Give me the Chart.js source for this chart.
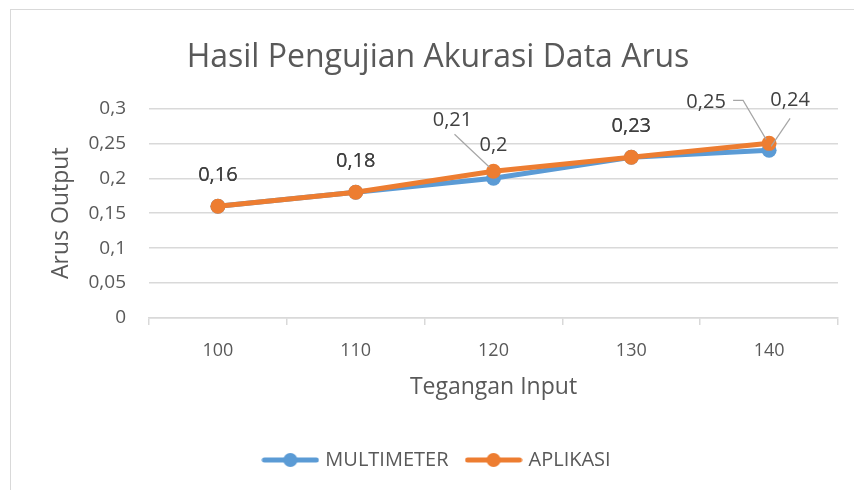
<!DOCTYPE html>
<html>
<head>
<meta charset="utf-8">
<script src="https://cdn.jsdelivr.net/npm/chart.js@4.4.1/dist/chart.umd.min.js"></script>
<style>
    html, body { margin: 0; padding: 0; background: #fff; overflow: hidden; }
    #wrap { position: relative; width: 854px; height: 490px; }
    #frame { position: absolute; left: 10px; top: 9px; width: 900px; height: 600px; border: 1.5px solid #d9d9d9; }
    #chart { position: absolute; left: 0; top: 0; }
</style>
</head>
<body>
<div id="wrap">
    <div id="frame"></div>
    <canvas id="chart" width="854" height="490"></canvas>
</div>
<script>
const categories = ['100', '110', '120', '130', '140'];
const multimeter = [0.16, 0.18, 0.2, 0.23, 0.24];
const aplikasi = [0.16, 0.18, 0.21, 0.23, 0.25];
const yTicks = [0, 0.05, 0.1, 0.15, 0.2, 0.25, 0.3];

const BLUE = '#5b9bd5';
const ORANGE = '#ed7d31';
const FONT = "'Open Sans', 'Liberation Sans', sans-serif";

const fmt = v => String(+v.toFixed(2)).replace('.', ',');

// legend marker: line with a dot in the middle
function legendMarker(color) {
    const c = document.createElement('canvas');
    c.width = 58; c.height = 16;
    const g = c.getContext('2d');
    g.strokeStyle = color;
    g.lineWidth = 5;
    g.lineCap = 'round';
    g.beginPath(); g.moveTo(3, 8); g.lineTo(55, 8); g.stroke();
    g.fillStyle = color;
    g.beginPath(); g.arc(29, 8, 7, 0, Math.PI * 2); g.fill();
    return c;
}

// data labels, Excel style (overlapping values share one spot)
const labelPlugin = {
    id: 'valueLabels',
    afterDatasetsDraw(chart) {
        const ctx = chart.ctx;
        ctx.save();
        ctx.font = '20px ' + FONT;
        ctx.fillStyle = '#404040';
        ctx.textAlign = 'center';
        ctx.textBaseline = 'middle';
        ctx.strokeStyle = '#a6a6a6';
        ctx.lineWidth = 1.2;
        const m = chart.getDatasetMeta(0).data;
        const a = chart.getDatasetMeta(1).data;
        categories.forEach((c, i) => {
            const pm = m[i], pa = a[i];
            if (multimeter[i] === aplikasi[i]) {
                ctx.fillText(fmt(aplikasi[i]), pa.x, pa.y - 31);
                ctx.fillText(fmt(multimeter[i]), pm.x, pm.y - 31);
            } else if (i === categories.length - 1) {
                ctx.beginPath();
                ctx.moveTo(pa.x - 36, pa.y - 43);
                ctx.lineTo(pa.x - 26, pa.y - 43);
                ctx.lineTo(pa.x - 3, pa.y - 4);
                ctx.stroke();
                ctx.beginPath();
                ctx.moveTo(pm.x + 21, pm.y - 32);
                ctx.lineTo(pm.x + 2, pm.y - 4);
                ctx.stroke();
                ctx.fillText(fmt(aplikasi[i]), pa.x - 63, pa.y - 41);
                ctx.fillText(fmt(multimeter[i]), pm.x + 21, pm.y - 50);
            } else {
                ctx.beginPath();
                ctx.moveTo(pa.x - 39, pa.y - 37);
                ctx.lineTo(pa.x - 4, pa.y - 4);
                ctx.stroke();
                ctx.fillText(fmt(aplikasi[i]), pa.x - 41, pa.y - 51);
                ctx.fillText(fmt(multimeter[i]), pm.x, pm.y - 33);
            }
        });
        ctx.restore();
    }
};

new Chart(document.getElementById('chart'), {
    type: 'line',
    data: {
        labels: categories,
        datasets: [
            {
                label: 'MULTIMETER',
                data: multimeter,
                order: 1,
                borderColor: BLUE,
                backgroundColor: BLUE,
                borderWidth: 5,
                pointRadius: 7.5,
                pointHoverRadius: 7.5,
                pointBorderWidth: 0,
                tension: 0
            },
            {
                label: 'APLIKASI',
                data: aplikasi,
                order: 0,
                borderColor: ORANGE,
                backgroundColor: ORANGE,
                borderWidth: 5,
                pointRadius: 7.5,
                pointHoverRadius: 7.5,
                pointBorderWidth: 0,
                tension: 0
            }
        ]
    },
    options: {
        responsive: false,
        animation: false,
        layout: { padding: { left: 38, right: 16, top: 0, bottom: 10 } },
        plugins: {
            title: {
                display: true,
                text: 'Hasil Pengujian Akurasi Data Arus',
                color: '#595959',
                font: { family: FONT, size: 32, weight: 'normal' },
                padding: { top: 39, bottom: 31 }
            },
            legend: {
                position: 'bottom',
                labels: {
                    usePointStyle: true,
                    pointStyleWidth: 50,
                    color: '#595959',
                    font: { family: FONT, size: 20 },
                    padding: 20,
                    generateLabels(chart) {
                        return chart.data.datasets.map((ds, i) => ({
                            text: ds.label,
                            fontColor: '#595959',
                            pointStyle: legendMarker(ds.borderColor),
                            strokeStyle: ds.borderColor,
                            fillStyle: ds.borderColor,
                            lineWidth: 0,
                            datasetIndex: i
                        }));
                    }
                }
            },
            tooltip: { enabled: false }
        },
        scales: {
            x: {
                offset: true,
                afterFit(scale) { scale.height = 112; },
                grid: {
                    offset: true,
                    drawOnChartArea: false,
                    color: '#d9d9d9',
                    tickLength: 7,
                    lineWidth: 1.5
                },
                border: { color: '#d9d9d9', width: 1.5 },
                ticks: { color: '#595959', font: { family: FONT, size: 18 }, padding: 15 },
                title: {
                    display: true,
                    text: 'Tegangan Input',
                    color: '#595959',
                    font: { family: FONT, size: 23 },
                    padding: { top: 0, bottom: 29 }
                }
            },
            y: {
                min: 0,
                max: 0.3,
                afterFit(scale) { scale.width = 111; },
                afterBuildTicks(scale) {
                    scale.ticks = yTicks.map(v => ({ value: v }));
                },
                grid: { color: '#d9d9d9', lineWidth: 1.5, drawTicks: false },
                border: { display: false },
                ticks: {
                    color: '#595959',
                    font: { family: FONT, size: 19 },
                    padding: 23,
                    callback: v => fmt(v)
                },
                title: {
                    display: true,
                    text: 'Arus Output',
                    color: '#595959',
                    font: { family: FONT, size: 23 },
                    padding: { top: 10, bottom: 0 }
                }
            }
        }
    },
    plugins: [labelPlugin]
});
</script>
</body>
</html>
